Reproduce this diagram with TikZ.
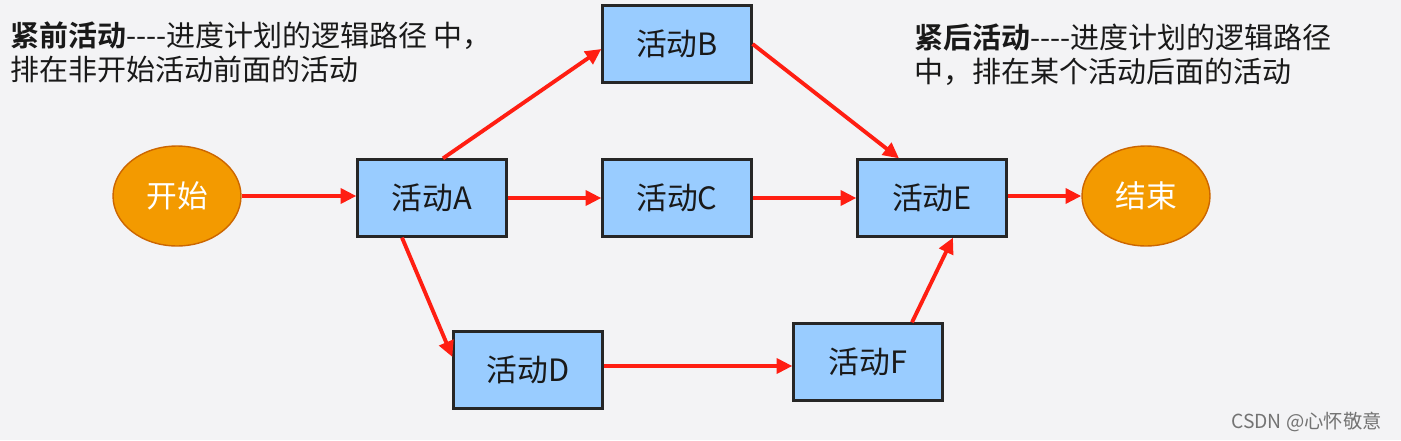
\documentclass[tikz,border=0pt]{standalone}
\usepackage{fontspec}
\newfontfamily\cjk{Noto Sans CJK SC}[BoldFont={Noto Sans CJK SC Bold}]
\usetikzlibrary{arrows.meta, positioning, shapes.geometric}

\definecolor{boxblue}{HTML}{99CCFF}
\definecolor{termorange}{HTML}{F39A00}
\definecolor{arrowred}{HTML}{FF1E12}
\definecolor{bggray}{HTML}{F3F3F5}

\begin{document}
\begin{tikzpicture}[x=0.02cm, y=-0.02cm,
  act/.style={draw=black!85, line width=1.3pt, fill=boxblue, minimum width=2.98cm,
    minimum height=1.54cm, font=\cjk\fontsize{17.5}{20}\selectfont, text=black!90},
  term/.style={ellipse, draw=orange!80!black, line width=0.8pt, fill=termorange,
    minimum width=2.56cm, minimum height=2cm, font=\cjk\fontsize{17.5}{20}\selectfont, text=white},
  flow/.style={arrowred, line width=2.2pt, -{Triangle[length=9pt, width=8.5pt]}},
  note/.style={align=left, anchor=north west, font=\cjk\fontsize{16.5}{19}\selectfont, text=black!90}]

  % Background
  \fill[bggray] (0,0) rectangle (1401,440);

  % Start and end
  \node[term] (start) at (177,196) {开始};
  \node[term] (finish) at (1146,196) {结束};

  % Activities
  \node[act] (A) at (432,198) {活动A};
  \node[act] (B) at (677,44) {活动B};
  \node[act] (C) at (677,198) {活动C};
  \node[act] (E) at (932,198) {活动E};
  \node[act] (D) at (528,370) {活动D};
  \node[act] (F) at (868,362) {活动F};

  % Connectors
  \draw[flow] (start.east) -- (start.east -| A.west);
  \draw[flow] ([xshift=0.22cm]A.north) -- ([yshift=-0.1cm]B.west);
  \draw[flow] (A) -- (C);
  \draw[flow] (B.east) -- ([xshift=-0.66cm]E.north);
  \draw[flow] (C) -- (E);
  \draw[flow] (E.east |- finish.west) -- (finish.west);
  \draw[flow] ([xshift=-0.6cm]A.south) -- ([yshift=0.26cm]D.west);
  \draw[flow] ([yshift=0.08cm]D.east) -- ([yshift=0.08cm]D.east -| F.west);
  \draw[flow] ([xshift=0.88cm]F.north) -- ([xshift=0.42cm]E.south);

  % Notes
  \node[note] (pre) at (4,16) {\textbf{紧前活动}----进度计划的逻辑路径 中，\\排在非开始活动前面的活动};
  \node[note] (post) at (908,18) {\textbf{紧后活动}----进度计划的逻辑路径\\中，排在某个活动后面的活动};

  % Watermark
  \node[anchor=east, text=black!55, font=\cjk\fontsize{11}{13}\selectfont] (mark) at (1388,422) {CSDN @心怀敬意};
\end{tikzpicture}
\end{document}
